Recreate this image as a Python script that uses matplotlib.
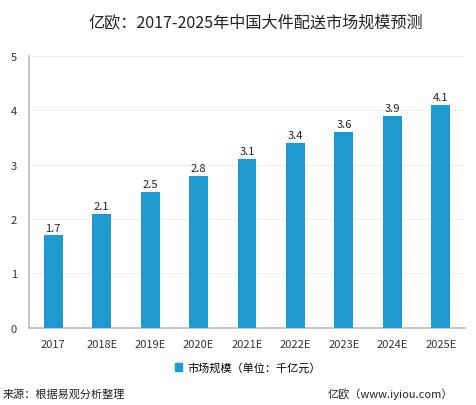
import matplotlib
matplotlib.use("Agg")
import matplotlib.pyplot as plt
from matplotlib.patches import Patch

plt.rcParams['font.family'] = ['Noto Sans CJK SC', 'DejaVu Sans']

categories = ["2017", "2018E", "2019E", "2020E", "2021E", "2022E", "2023E", "2024E", "2025E"]
values = [1.7, 2.1, 2.5, 2.8, 3.1, 3.4, 3.6, 3.9, 4.1]
yticks = [0, 1, 2, 3, 4, 5]
title = "亿欧：2017-2025年中国大件配送市场规模预测"
legend_label = "市场规模（单位：千亿元）"
source = "来源：根据易观分析整理"
credit = "亿欧（www.iyiou.com）"

color = "#1E9AD0"
fig = plt.figure(figsize=(4.76, 4.06), dpi=100)
ax = fig.add_axes([0.061, 0.19, 0.916, 0.67])
x = range(len(categories))
bars = ax.bar(x, values, width=0.39, color=color, zorder=3)
for xi, v in zip(x, values):
    ax.text(xi, v + 0.05, f"{v}", ha="center", va="bottom", fontsize=8, color="#222222")

ax.set_xlim(-0.5, len(categories) - 0.5)
ax.set_ylim(0, 5)
ax.set_yticks(yticks)
ax.set_xticks(list(x))
ax.set_xticklabels(categories)
ax.tick_params(axis="both", length=0, labelsize=8, colors="#333333")
ax.tick_params(axis="y", pad=11)
ax.tick_params(axis="x", pad=8)
for lab in ax.get_yticklabels():
    lab.set_horizontalalignment("center")
ax.grid(axis="y", color="#F0F0F0", linewidth=0.8, zorder=0)
for s in ["top", "right"]:
    ax.spines[s].set_visible(False)
ax.spines["left"].set_color("#BBBBBB")
ax.spines["bottom"].set_color("#BBBBBB")
ax.spines["left"].set_linewidth(1.2)
ax.spines["bottom"].set_linewidth(1.2)

fig.text(0.537, 0.945, title, ha="center", va="center", fontsize=11.6, color="#222222")
fig.legend(handles=[Patch(color=color)], labels=[legend_label], loc="center",
           bbox_to_anchor=(0.52, 0.092), frameon=False, fontsize=8,
           handlelength=0.7, handleheight=0.7, handletextpad=0.4)
fig.text(0.006, 0.028, source, ha="left", va="center", fontsize=8, color="#222222")
fig.text(0.952, 0.028, credit, ha="right", va="center", fontsize=8, color="#222222")

fig.savefig("out.png", dpi=100, facecolor="white")
